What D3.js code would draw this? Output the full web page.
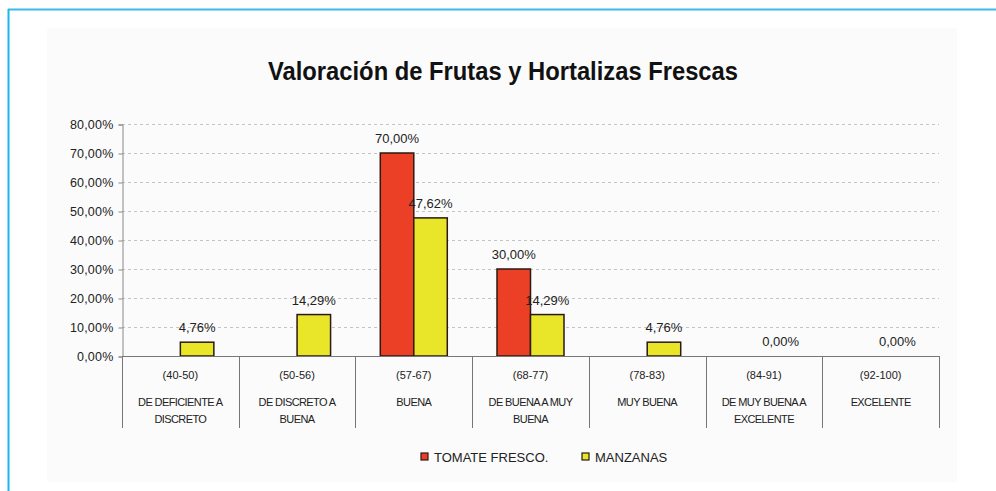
<!DOCTYPE html>
<html>
<head>
<meta charset="utf-8">
<script src="https://cdn.jsdelivr.net/npm/d3@7"></script>
<style>
  body { margin: 0; background: #fff; }
  svg { display: block; }
</style>
</head>
<body>
<svg id="chart" width="996" height="491"></svg>
<script>
// Datos del grafico
const rangos = ['(40-50)', '(50-56)', '(57-67)', '(68-77)', '(78-83)', '(84-91)', '(92-100)']
const valoraciones = [
    ['DE DEFICIENTE A', 'DISCRETO'],
    ['DE DISCRETO A', 'BUENA'],
    ['BUENA'],
    ['DE BUENA A MUY', 'BUENA'],
    ['MUY BUENA'],
    ['DE MUY BUENA A', 'EXCELENTE'],
    ['EXCELENTE']
]
const series = ['TOMATE FRESCO.', 'MANZANAS']
const tomate = [null, null, 70.00, 30.00, null, null, null]
const manzanas = [4.76, 14.29, 47.62, 14.29, 4.76, 0.00, 0.00]
const yTicks = [0, 10, 20, 30, 40, 50, 60, 70, 80]

const COLORES = ['#ec4026', '#e9e62a']
const POLICE = 'Liberation Sans, Arial, sans-serif'

const svg = d3.select('#chart')
const fmt = v => v.toFixed(2).replace('.', ',') + '%'

// marco azul y fondo gris
svg.append('rect').attr('x', 47).attr('y', 28).attr('width', 910).attr('height', 454).attr('fill', '#fbfbfb')
svg.append('line').attr('x1', 8).attr('x2', 996).attr('y1', 9.5).attr('y2', 9.5).attr('stroke', '#3bbbe8').attr('stroke-width', 2)
svg.append('line').attr('x1', 8.5).attr('x2', 8.5).attr('y1', 9).attr('y2', 491).attr('stroke', '#1ab8ee').attr('stroke-width', 2)

// titulo
svg.append('text').text('Valoración de Frutas y Hortalizas Frescas')
    .attr('x', 503).attr('y', 80).attr('text-anchor', 'middle')
    .attr('textLength', 470).attr('lengthAdjust', 'spacingAndGlyphs')
    .attr('font-family', POLICE).attr('font-weight', 'bold').attr('font-size', 25).attr('fill', '#111')

const margin = { left: 122, right: 939, top: 124, bottom: 356 }

const x = d3.scaleBand().domain(d3.range(rangos.length)).range([margin.left, margin.right])
const xSub = d3.scaleBand().domain([0, 1]).range([0, 67])
const y = d3.scaleLinear().domain([0, 80]).range([margin.bottom, margin.top])

const g = svg.append('g')

// lineas de cuadricula punteadas
g.selectAll('.grid').data(yTicks.slice(1)).join('line').attr('class', 'grid')
    .attr('x1', margin.left).attr('x2', margin.right)
    .attr('y1', d => Math.round(y(d)) + 0.5).attr('y2', d => Math.round(y(d)) + 0.5)
    .attr('stroke', '#c4c4c4').attr('stroke-dasharray', '3,3')

// eje y
const yAxis = g.append('g').attr('transform', 'translate(' + (margin.left + 0.5) + ',0.5)')
    .call(d3.axisLeft(y).tickValues(yTicks).tickSize(4).tickFormat(fmt))
yAxis.select('.domain').attr('stroke', '#888')
yAxis.selectAll('.tick line').attr('stroke', '#888')
yAxis.selectAll('text').attr('font-family', POLICE).attr('font-size', 12.5).attr('letter-spacing', 0.2)
    .attr('fill', '#222').attr('x', -9)

// barras
const datos = [tomate, manzanas]
datos.forEach((serie, s) => {
    const puntos = serie.map((v, i) => ({ v, i })).filter(d => d.v !== null)
    g.selectAll('.bar' + s).data(puntos).join('rect')
        .attr('class', 'bar' + s)
        .attr('x', d => x(d.i) + (x.bandwidth() - 67) / 2 + xSub(s))
        .attr('width', xSub.bandwidth())
        .attr('y', d => y(d.v))
        .attr('height', d => y(0) - y(d.v))
        .attr('fill', COLORES[s]).attr('stroke', '#2a1a14').attr('stroke-width', 1.5)

    g.selectAll('.lab' + s).data(puntos).join('text')
        .attr('class', 'lab' + s)
        .attr('x', d => x(d.i) + (x.bandwidth() - 67) / 2 + xSub(s) + xSub.bandwidth() / 2)
        .attr('y', d => y(d.v) - 10)
        .attr('text-anchor', 'middle')
        .attr('font-family', POLICE).attr('font-size', 13).attr('fill', '#222')
        .text(d => fmt(d.v))
})

// eje x con separadores
g.append('line').attr('x1', margin.left).attr('x2', margin.right)
    .attr('y1', margin.bottom + 0.5).attr('y2', margin.bottom + 0.5).attr('stroke', '#777').attr('stroke-width', 1.2)
g.selectAll('.sep').data(d3.range(rangos.length + 1)).join('line').attr('class', 'sep')
    .attr('x1', d => Math.round(margin.left + d * x.step()) + 0.5)
    .attr('x2', d => Math.round(margin.left + d * x.step()) + 0.5)
    .attr('y1', margin.bottom).attr('y2', 428).attr('stroke', '#777')

// etiquetas de categoria
rangos.forEach((r, i) => {
    const cx = x(i) + x.bandwidth() / 2
    g.append('text').text(r).attr('x', cx).attr('y', 379).attr('text-anchor', 'middle')
        .attr('font-family', POLICE).attr('font-size', 11).attr('fill', '#222')
    valoraciones[i].forEach((t, k) => {
        g.append('text').text(t).attr('x', cx).attr('y', 406 + k * 17).attr('text-anchor', 'middle')
            .attr('font-family', POLICE).attr('font-size', 11).attr('letter-spacing', -0.6).attr('fill', '#222')
    })
})

// leyenda
const leyX = [421, 582]
series.forEach((s, i) => {
    svg.append('rect').attr('x', leyX[i]).attr('y', 453).attr('width', 7).attr('height', 7)
        .attr('fill', COLORES[i]).attr('stroke', '#2a1a14').attr('stroke-width', 1.2)
    svg.append('text').text(s).attr('x', leyX[i] + 13).attr('y', 461.5)
        .attr('font-family', POLICE).attr('font-size', 13).attr('fill', '#222')
})
</script>
</body>
</html>
